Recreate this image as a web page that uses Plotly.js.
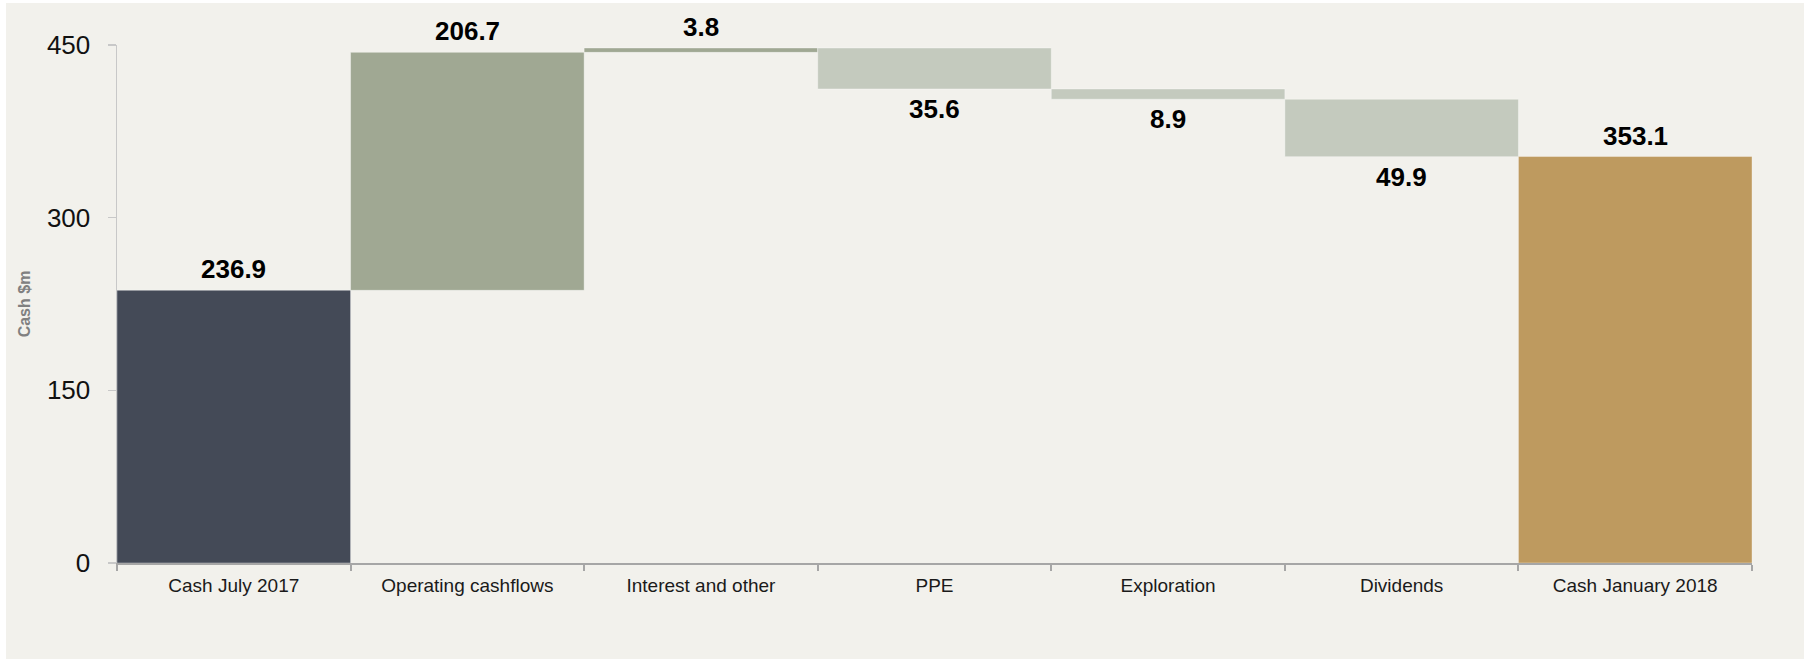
<!DOCTYPE html>
<html>
<head>
<meta charset="utf-8">
<script src="https://cdn.plot.ly/plotly-3.0.1.min.js"></script>
<style>
  html, body { margin: 0; padding: 0; background: #ffffff; }
  #chart { position: absolute; left: 6px; top: 3px; width: 1798px; height: 656px; }
</style>
</head>
<body>
<div id="chart"></div>
<script>
// Cash movement, July 2017 to January 2018 (US$ millions)
const categories = ['Cash July 2017', 'Operating cashflows', 'Interest and other', 'PPE', 'Exploration', 'Dividends', 'Cash January 2018'];
const values = [236.9, 206.7, 3.8, -35.6, -8.9, -49.9, 353.1];
const measures = ['total', 'relative', 'relative', 'relative', 'relative', 'relative', 'total'];
const yTicks = [0, 150, 300, 450];

const palette = {
  opening: '#444a57',
  increase: '#a0a893',
  decrease: '#c4cabe',
  closing: '#be9a5f'
};

// Floating bars: each movement starts where the running balance left off
const bases = [];
const heights = [];
const colors = [];
const labelY = [];
const labelUp = [];
let running = 0;
values.forEach((v, i) => {
  if (measures[i] === 'total') {
    bases.push(0);
    heights.push(v);
    running = v;
    colors.push(i === 0 ? palette.opening : palette.closing);
    labelY.push(v);
    labelUp.push(true);
  } else {
    const start = running;
    running += v;
    bases.push(Math.min(start, running));
    heights.push(Math.abs(v));
    colors.push(v >= 0 ? palette.increase : palette.decrease);
    labelY.push(running);
    labelUp.push(v >= 0);
  }
});

const trace = {
  type: 'bar',
  x: categories,
  y: heights,
  base: bases,
  marker: { color: colors, line: { color: 'rgba(255,255,255,0.35)', width: 1 } },
  hoverinfo: 'skip',
  showlegend: false
};

// Value labels: above rising/total bars, below falling bars
const annotations = values.map((v, i) => ({
  x: categories[i],
  y: labelY[i],
  xref: 'x',
  yref: 'y',
  text: Math.abs(v).toFixed(1),
  showarrow: false,
  yanchor: labelUp[i] ? 'bottom' : 'top',
  yshift: labelUp[i] ? 4 : -3,
  font: { family: 'Liberation Sans, Arial, sans-serif', size: 26, color: '#000000', weight: 'bold' }
}));

const layout = {
  width: 1798,
  height: 656,
  paper_bgcolor: '#f2f1ec',
  plot_bgcolor: '#f2f1ec',
  margin: { l: 111, r: 52, t: 42, b: 96 },
  bargap: 0,
  font: { family: 'Liberation Sans, Arial, sans-serif' },
  xaxis: {
    type: 'category',
    showline: true,
    linecolor: '#a6a6a6',
    linewidth: 2,
    ticks: 'outside',
    tickson: 'boundaries',
    ticklen: 6,
    tickcolor: '#a6a6a6',
    tickwidth: 2,
    ticklabelstandoff: 4,
    showgrid: false,
    zeroline: false,
    tickfont: { size: 19, color: '#1a1a1a' },
    fixedrange: true
  },
  yaxis: {
    range: [0, 450],
    tickvals: yTicks,
    ticktext: yTicks.map(String),
    showline: true,
    linecolor: '#c8c8c8',
    linewidth: 1.5,
    ticks: 'outside',
    ticklen: 8,
    tickcolor: '#c8c8c8',
    tickwidth: 1.5,
    ticklabelstandoff: 12,
    showgrid: false,
    zeroline: false,
    tickfont: { size: 26, color: '#111111' },
    title: {
      text: 'Cash $m',
      standoff: 12,
      font: { size: 16, color: '#808080', weight: 'bold' }
    },
    fixedrange: true
  },
  annotations: annotations
};

Plotly.newPlot('chart', [trace], layout, { displayModeBar: false, staticPlot: true });
</script>
</body>
</html>
